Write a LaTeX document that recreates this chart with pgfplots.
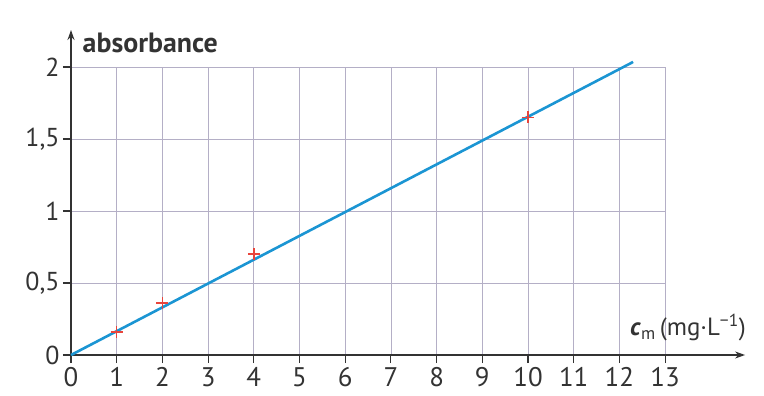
\documentclass[border=0pt]{standalone}
\usepackage{pgfplots}
\pgfplotsset{compat=1.18}
\usepackage{fontspec}
\setmainfont{PT Sans}
\usetikzlibrary{calc,arrows.meta}
\definecolor{axisgray}{HTML}{333333}
\definecolor{gridgray}{HTML}{B4AFC6}
\definecolor{lineblue}{HTML}{1B95D3}
\definecolor{markred}{HTML}{E8453C}
\begin{document}
\begin{tikzpicture}
\begin{axis}[
  x=45.7bp, y=144bp,
  xmin=0, xmax=13, ymin=0, ymax=2,
  axis lines=left,
  clip=false,
  xtick={0,1,...,13},
  ytick={0,0.5,1,1.5,2},
  /pgf/number format/use comma,
  /pgf/number format/assume math mode=true,
  grid=major,
  major grid style={gridgray, line width=0.8bp},
  tick align=outside,
  major tick length=8bp,
  tick style={axisgray, line width=1.1bp},
  x axis line style={axisgray, line width=1.4bp, -{Stealth[length=10bp,width=7bp]}, shorten >=-80bp},
  y axis line style={axisgray, line width=1.4bp, -{Stealth[length=10bp,width=7bp]}, shorten >=-37bp},
  xticklabel style={font=\fontsize{27}{30}\selectfont, text=axisgray, yshift=-1bp},
  yticklabel style={font=\fontsize{26}{29}\selectfont, text=axisgray},
]
\coordinate (O) at (axis cs:0,0);
\addplot[lineblue, line width=2.6bp] coordinates {(0,0) (12.30,2.035)};
\addplot[only marks, mark=+, mark size=6bp, markred, mark options={line width=1.6bp}]
  coordinates {(1,0.16) (2,0.36) (4,0.70) (10,1.65)};
\node[anchor=base west, font=\fontsize{28}{32}\selectfont\bfseries, text=axisgray] at (axis cs:0.18,2.10) {absorbance};
\node[anchor=base, font=\fontsize{25}{28}\selectfont, text=axisgray] at (axis cs:13.5,0.135) {\textbf{\textit{c}}\textsubscript{m}\,(mg·L\textsuperscript{−1})};
\end{axis}
\pgfresetboundingbox
\path ($(O)+(-71bp,-41bp)$) rectangle ($(O)+(693bp,355bp)$);
\end{tikzpicture}
\end{document}
